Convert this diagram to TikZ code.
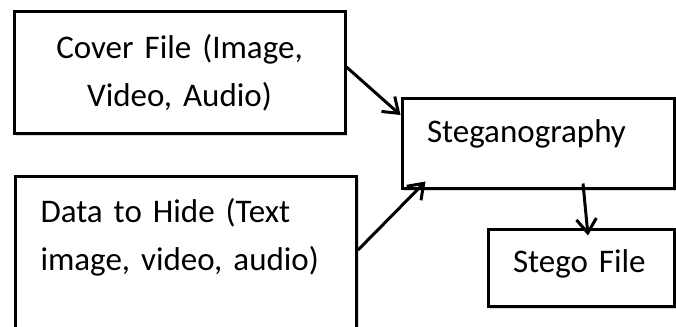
\documentclass[tikz,border=0pt]{standalone}
\usepackage{fontspec}
\setmainfont{Carlito}[WordSpace=0.6]
\usetikzlibrary{arrows.meta,shadows}

\begin{document}
\begin{tikzpicture}[x=1pt,y=1pt,
  box/.style={draw,line width=3pt,fill=white,inner xsep=25pt,inner ysep=0pt,
    drop shadow={shadow xshift=2pt,shadow yshift=-2.5pt,opacity=.3},
    font=\fontsize{33}{48}\selectfont},
  flow/.style={line width=3pt,-{Straight Barb[length=14pt,width=20pt]}}]
  \clip (0,0) rectangle (676,326);
  \node[box,text width=281pt,align=center,minimum height=122pt] (cov) at (179.5,253) {Cover File (Image,\\Video, Audio)};
  \node[box,text width=291pt,align=left,anchor=north west,inner ysep=22pt] (dat) at (14,151) {Data to Hide (Text\\image, video, audio)\\\strut};
  \node[box,text width=222pt,align=left,minimum height=90pt,text height=23pt,text depth=25pt] (steg) at (538,182) {Steganography};
  \node[box,text width=136pt,align=left,minimum height=77pt,text height=23pt,text depth=14pt] (stego) at (581,57.5) {Stego File};
  \draw[flow] ([yshift=6pt]cov.east) -- ([yshift=29pt]steg.west);
  \draw[flow] ([yshift=-75pt]dat.north east) -- ([xshift=25pt,yshift=9pt]steg.south west);
  \draw[flow] ([xshift=45pt,yshift=7pt]steg.south) -- ([xshift=7pt,yshift=-7pt]stego.north);
\end{tikzpicture}
\end{document}
